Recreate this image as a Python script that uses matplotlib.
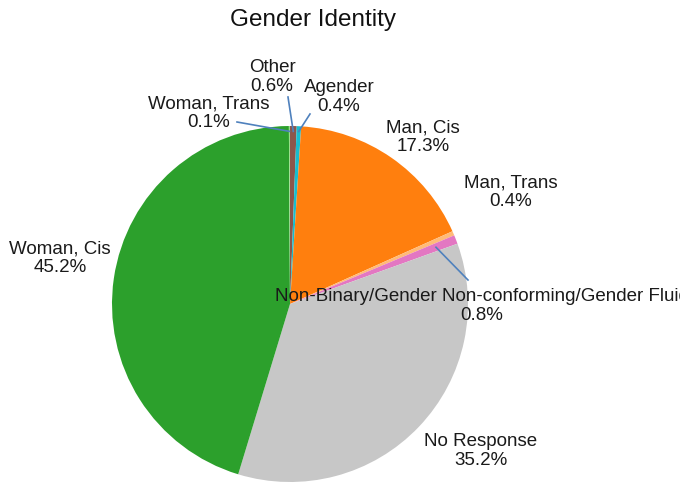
import numpy as np
import matplotlib.pyplot as plt

plt.rcParams['font.family'] = ['Liberation Sans', 'DejaVu Sans']

labels = ["Other", "Agender", "Man, Cis", "Man, Trans",
          "Non-Binary/Gender Non-conforming/Gender Fluid",
          "No Response", "Woman, Cis", "Woman, Trans"]
shares = [0.6, 0.4, 17.3, 0.4, 0.8, 35.2, 45.2, 0.1]
colors = ["#8c564b", "#17becf", "#ff7f0e", "#ffbb78", "#e377c2",
          "#c7c7c7", "#2ca02c", "#98df8a"]

# pixel layout of the picture
W, H = 680, 485
CX, CY, R = 290, 305, 178


def px(x, y):
    return (x - CX) / R, (CY - y) / R


# label centres (pixels)
label_pos = [(272, 77), (339, 97), (423, 137), (511, 192),
             (482, 306), (481, 451), (60, 258), (209, 113)]
# leader lines: start radius (fraction), end point (pixels)
leaders = {0: (0.97, (288, 98)), 1: (0.97, (310, 115)),
           4: (0.88, (468, 281)), 7: (0.97, (237, 123))}

fig = plt.figure(figsize=(W / 100, H / 100), dpi=100)
ax = fig.add_axes([0, 0, 1, 1])
wedges, _ = ax.pie(shares, colors=colors, startangle=90, counterclock=False,
                   radius=1, wedgeprops=dict(linewidth=0))
ax.set_xlim(-CX / R, (W - CX) / R)
ax.set_ylim((CY - H) / R, CY / R)
ax.set_aspect('auto')
ax.axis('off')

for i, (lab, val) in enumerate(zip(labels, shares)):
    lx, ly = px(*label_pos[i])
    ax.text(lx, ly, f"{lab}\n{val:.1f}%", ha='center', va='center',
            fontsize=13.5, color='#1a1a1a', linespacing=1.12, clip_on=False)
    if i in leaders:
        frac, end = leaders[i]
        w = wedges[i]
        mid = np.deg2rad((w.theta1 + w.theta2) / 2)
        sx, sy = frac * np.cos(mid), frac * np.sin(mid)
        ex, ey = px(*end)
        ax.plot([sx, ex], [sy, ey], color='#4f81bd', lw=1.2)

fig.text(313 / W, 1 - 20 / H, "Gender Identity", ha='center', va='center',
         fontsize=17.5, color='#111111')

plt.savefig("out.png", dpi=100)
